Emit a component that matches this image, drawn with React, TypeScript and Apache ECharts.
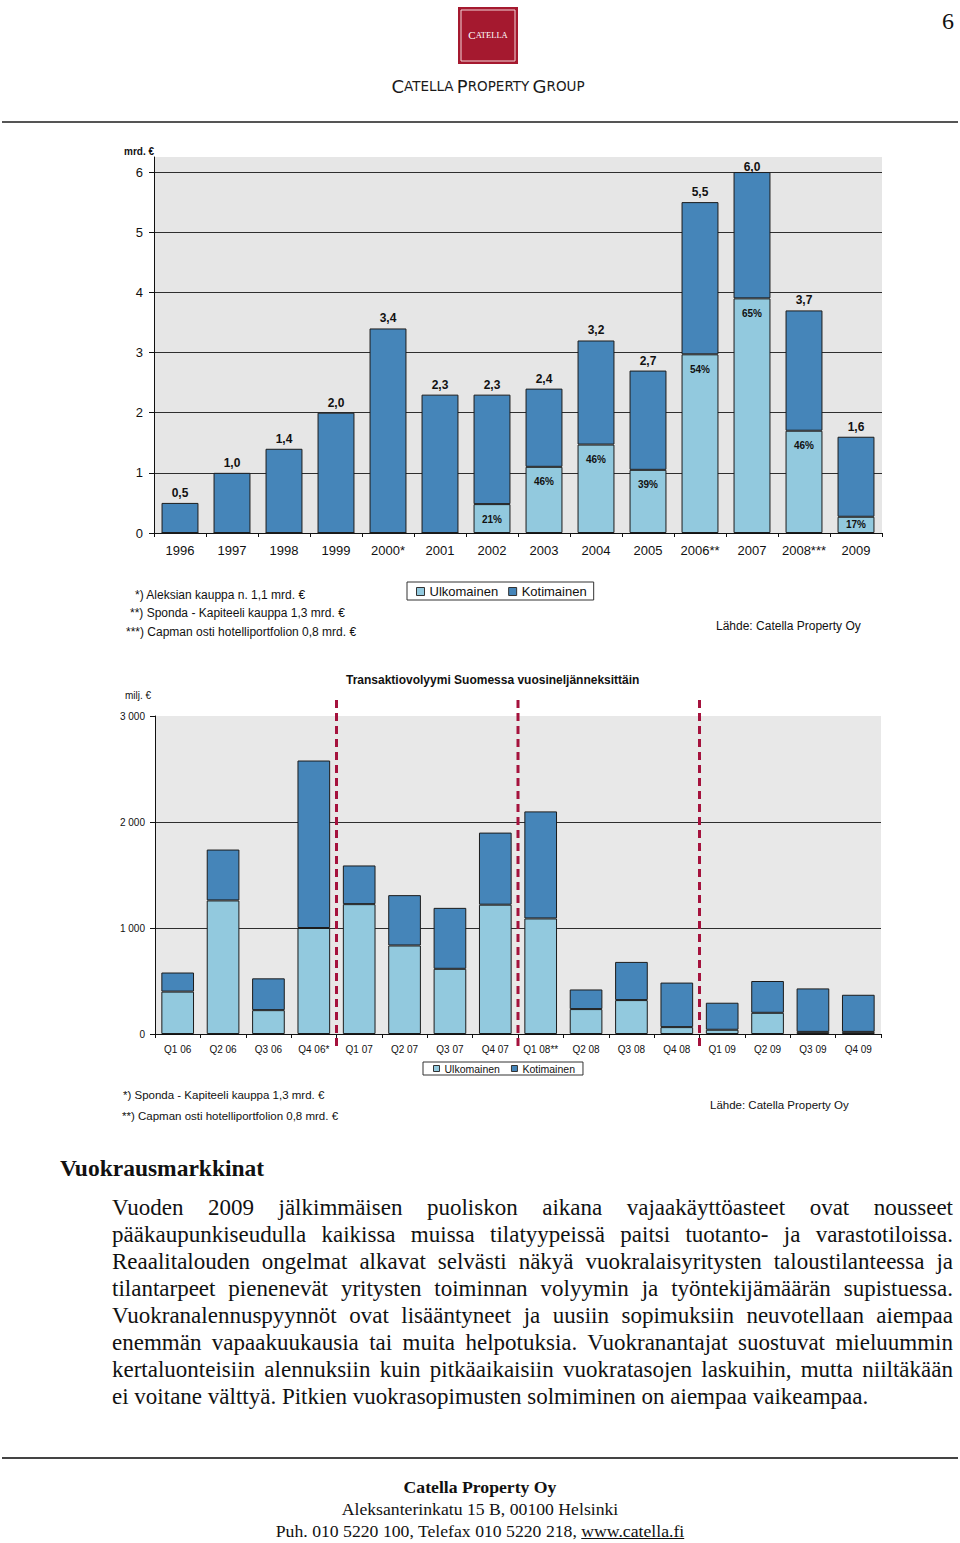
import React, { useEffect, useRef } from "react";
import * as echarts from "echarts";

// ---------- Data: annual transaction volume (mrd. €) ----------
const years = ["1996", "1997", "1998", "1999", "2000*", "2001", "2002", "2003", "2004", "2005", "2006**", "2007", "2008***", "2009"];
const yearTotals = [0.5, 1.0, 1.4, 2.0, 3.4, 2.3, 2.3, 2.4, 3.2, 2.7, 5.5, 6.0, 3.7, 1.6];
const yearForeign = [0, 0, 0, 0, 0, 0, 0.48, 1.1, 1.47, 1.05, 2.97, 3.9, 1.7, 0.27];
const yearDomestic = [0.5, 1.0, 1.4, 2.0, 3.4, 2.3, 1.82, 1.3, 1.73, 1.65, 2.53, 2.1, 2.0, 1.33];
const yearForeignPct = ["", "", "", "", "", "", "21%", "46%", "46%", "39%", "54%", "65%", "46%", "17%"];

// ---------- Data: quarterly transaction volume (milj. €) ----------
const quarters = ["Q1 06", "Q2 06", "Q3 06", "Q4 06*", "Q1 07", "Q2 07", "Q3 07", "Q4 07", "Q1 08**", "Q2 08", "Q3 08", "Q4 08", "Q1 09", "Q2 09", "Q3 09", "Q4 09"];
const quarterForeign = [400, 1260, 225, 1000, 1225, 835, 615, 1220, 1090, 235, 320, 65, 40, 200, 20, 20];
const quarterDomestic = [180, 480, 300, 1580, 365, 475, 575, 680, 1010, 185, 360, 420, 255, 300, 410, 350];
const yearBreaks = [3, 7, 11]; // last quarter index of 2006, 2007, 2008

const seriesNames = ["Ulkomainen", "Kotimainen"];

const footnotes1 = [
  "*) Aleksian kauppa n. 1,1 mrd. €",
  "**) Sponda - Kapiteeli kauppa 1,3 mrd. €",
  "***) Capman osti hotelliportfolion 0,8 mrd. €",
];
const footnotes2 = [
  "*) Sponda - Kapiteeli kauppa 1,3 mrd. €",
  "**) Capman osti hotelliportfolion 0,8 mrd. €",
];
const sourceText = "Lähde: Catella Property Oy";
const chartTitle2 = "Transaktiovolyymi Suomessa vuosineljänneksittäin";

const heading = "Vuokrausmarkkinat";
const paragraphLines = [
  "Vuoden 2009 jälkimmäisen puoliskon aikana vajaakäyttöasteet ovat nousseet",
  "pääkaupunkiseudulla kaikissa muissa tilatyypeissä paitsi tuotanto- ja varastotiloissa.",
  "Reaalitalouden ongelmat alkavat selvästi näkyä vuokralaisyritysten taloustilanteessa ja",
  "tilantarpeet pienenevät yritysten toiminnan volyymin ja työntekijämäärän supistuessa.",
  "Vuokranalennuspyynnöt ovat lisääntyneet ja uusiin sopimuksiin neuvotellaan aiempaa",
  "enemmän vapaakuukausia tai muita helpotuksia. Vuokranantajat suostuvat mieluummin",
  "kertaluonteisiin alennuksiin kuin pitkäaikaisiin vuokratasojen laskuihin, mutta niiltäkään",
  "ei voitane välttyä. Pitkien vuokrasopimusten solmiminen on aiempaa vaikeampaa.",
];

const LIGHT = "#92c9de";
const DARK = "#4585b9";
const BORDER = "#1c1c1c";
const SANS = "Liberation Sans, Arial, sans-serif";
const SERIF = "Liberation Serif, Times New Roman, serif";

const fmt1 = (v: number) => v.toFixed(1).replace(".", ",");
const fmtThousand = (v: number) => (v === 0 ? "0" : `${v / 1000} 000`);

export default function App() {
  const ref = useRef<HTMLDivElement>(null);

  useEffect(() => {
    if (!ref.current) return;
    const chart = echarts.init(ref.current, undefined, { renderer: "svg" });

    const axisLineStyle = { color: "#111", width: 1 };

    const option: any = {
      animation: false,
      backgroundColor: "#ffffff",
      title: {
        text: chartTitle2,
        left: 346,
        top: 674,
        padding: 0,
        textStyle: { fontFamily: SANS, fontSize: 12, fontWeight: "bold", color: "#111" },
      },
      legend: [
        {
          data: seriesNames,
          left: 407,
          top: 582,
          padding: [3, 7, 2, 9],
          itemGap: 10,
          itemWidth: 8,
          itemHeight: 8,
          icon: "rect",
          borderColor: "#333",
          borderWidth: 1,
          selectedMode: false,
          textStyle: { fontFamily: SANS, fontSize: 13, color: "#111" },
          itemStyle: { borderColor: "#333", borderWidth: 1 },
        },
        {
          data: seriesNames,
          left: 423,
          top: 1062,
          padding: [1, 8, 1, 10],
          itemGap: 11,
          itemWidth: 6,
          itemHeight: 6,
          icon: "rect",
          borderColor: "#333",
          borderWidth: 1,
          selectedMode: false,
          textStyle: { fontFamily: SANS, fontSize: 10.5, color: "#111" },
          itemStyle: { borderColor: "#333", borderWidth: 1 },
        },
      ],
      grid: [
        { left: 154, top: 157, width: 728, height: 376, show: true, backgroundColor: "#e6e6e6", borderWidth: 0 },
        { left: 155, top: 716, width: 726, height: 318, show: true, backgroundColor: "#e8e8e8", borderWidth: 0 },
      ],
      xAxis: [
        {
          type: "category",
          gridIndex: 0,
          data: years,
          axisLine: { lineStyle: axisLineStyle },
          axisTick: { show: true, length: 4, lineStyle: axisLineStyle },
          axisLabel: { interval: 0, fontFamily: SANS, fontSize: 13, color: "#111", margin: 11 },
        },
        {
          type: "category",
          gridIndex: 1,
          data: quarters,
          axisLine: { lineStyle: axisLineStyle },
          axisTick: { show: true, length: 4, lineStyle: axisLineStyle },
          axisLabel: { interval: 0, fontFamily: SANS, fontSize: 10, color: "#111", margin: 10 },
        },
      ],
      yAxis: [
        {
          type: "value",
          gridIndex: 0,
          min: 0,
          max: 6.25,
          interval: 1,
          axisLine: { show: true, lineStyle: axisLineStyle },
          axisTick: { show: true, length: 5, lineStyle: axisLineStyle },
          axisLabel: { showMaxLabel: false, fontFamily: SANS, fontSize: 13, color: "#111", margin: 11 },
          splitLine: { show: true, showMaxLine: false, lineStyle: { color: "#2e2e2e", width: 1.2 } },
        },
        {
          type: "value",
          gridIndex: 1,
          min: 0,
          max: 3000,
          interval: 1000,
          axisLine: { show: true, lineStyle: axisLineStyle },
          axisTick: { show: true, length: 5, lineStyle: axisLineStyle },
          axisLabel: { fontFamily: SANS, fontSize: 10, color: "#111", margin: 10, formatter: fmtThousand },
          splitLine: { show: true, showMaxLine: false, lineStyle: { color: "#2e2e2e", width: 1.2 } },
        },
      ],
      series: [
        {
          type: "bar",
          name: seriesNames[0],
          xAxisIndex: 0,
          yAxisIndex: 0,
          stack: "years",
          barWidth: "71%",
          data: yearForeign.map((v) => ({
            value: v,
            label: v > 0 && v < 0.4 ? { position: "inside", distance: 0 } : undefined,
          })),
          itemStyle: { color: LIGHT, borderColor: BORDER, borderWidth: 1 },
          label: {
            show: true,
            position: "insideTop",
            distance: 10,
            fontFamily: SANS,
            fontSize: 10,
            fontWeight: "bold",
            color: "#111",
            formatter: (p: any) => yearForeignPct[p.dataIndex],
          },
        },
        {
          type: "bar",
          name: seriesNames[1],
          xAxisIndex: 0,
          yAxisIndex: 0,
          stack: "years",
          barWidth: "71%",
          data: yearDomestic.map((v, i) => ({
            value: v,
            label: yearTotals[i] >= 6 ? { distance: -1 } : undefined,
          })),
          itemStyle: { color: DARK, borderColor: BORDER, borderWidth: 1 },
          label: {
            show: true,
            position: "top",
            distance: 4,
            fontFamily: SANS,
            fontSize: 12,
            fontWeight: "bold",
            color: "#111",
            formatter: (p: any) => fmt1(yearTotals[p.dataIndex]),
          },
        },
        {
          type: "bar",
          name: seriesNames[0],
          xAxisIndex: 1,
          yAxisIndex: 1,
          stack: "quarters",
          barWidth: "72%",
          data: quarterForeign,
          itemStyle: { color: LIGHT, borderColor: BORDER, borderWidth: 1 },
        },
        {
          type: "bar",
          name: seriesNames[1],
          xAxisIndex: 1,
          yAxisIndex: 1,
          stack: "quarters",
          barWidth: "72%",
          data: quarterDomestic,
          itemStyle: { color: DARK, borderColor: BORDER, borderWidth: 1 },
        },
        {
          type: "custom",
          name: "breaks",
          xAxisIndex: 1,
          yAxisIndex: 1,
          clip: false,
          silent: true,
          z: 10,
          data: yearBreaks.map((i) => [i, 0]),
          renderItem: (params: any, api: any) => {
            const i = api.value(0);
            const base = api.coord([i, 0]);
            const top = api.coord([i, 3000]);
            const band = api.size([1, 0])[0];
            const x = base[0] + band / 2;
            return {
              type: "line",
              shape: { x1: x, y1: top[1] - 16, x2: x, y2: base[1] + 16 },
              style: { stroke: "#a5123d", lineWidth: 3, lineDash: [8, 5] },
            };
          },
        },
      ],
      graphic: [
        // header logo
        { type: "rect", shape: { x: 458, y: 7, width: 60, height: 57 }, style: { fill: "#a5192f" } },
        { type: "rect", shape: { x: 461, y: 10, width: 54, height: 51 }, style: { fill: "none", stroke: "#f2d7da", lineWidth: 1 } },
        {
          type: "text",
          x: 488,
          y: 35,
          style: {
            text: "{c|C}{s|ATELLA}",
            align: "center",
            verticalAlign: "middle",
            fill: "#fff",
            rich: {
              c: { fontFamily: SERIF, fontSize: 11, fill: "#fff" },
              s: { fontFamily: SERIF, fontSize: 8.5, fill: "#fff" },
            },
          },
        },
        {
          type: "text",
          x: 488,
          y: 86,
          style: {
            text: "{c|C}{s|ATELLA} {c|P}{s|ROPERTY} {c|G}{s|ROUP}",
            align: "center",
            verticalAlign: "middle",
            fill: "#1a1a1a",
            rich: {
              c: { fontFamily: "DejaVu Sans", fontSize: 18, fill: "#1a1a1a" },
              s: { fontFamily: "DejaVu Sans", fontSize: 13.5, fill: "#1a1a1a" },
            },
          },
        },
        { type: "text", x: 948, y: 21, style: { text: "6", align: "center", verticalAlign: "middle", fontFamily: SERIF, fontSize: 24, fill: "#111" } },
        { type: "line", shape: { x1: 2, y1: 122, x2: 958, y2: 122 }, style: { stroke: "#555", lineWidth: 2 } },
        // chart 1 unit + notes
        { type: "text", x: 124, y: 151, style: { text: "mrd. €", verticalAlign: "middle", fontFamily: SANS, fontSize: 10, fontWeight: "bold", fill: "#111" } },
        ...footnotes1.map((t, i) => ({
          type: "text",
          x: [135, 130, 126][i],
          y: [595, 613, 632][i],
          style: { text: t, verticalAlign: "middle", fontFamily: SANS, fontSize: 12, fill: "#111" },
        })),
        { type: "text", x: 716, y: 626, style: { text: sourceText, verticalAlign: "middle", fontFamily: SANS, fontSize: 12, fill: "#111" } },
        // chart 2 unit + notes
        { type: "text", x: 125, y: 695, style: { text: "milj. €", verticalAlign: "middle", fontFamily: SANS, fontSize: 10, fill: "#111" } },
        ...footnotes2.map((t, i) => ({
          type: "text",
          x: [123, 122][i],
          y: [1095, 1116][i],
          style: { text: t, verticalAlign: "middle", fontFamily: SANS, fontSize: 11.5, fill: "#111" },
        })),
        { type: "text", x: 710, y: 1105, style: { text: sourceText, verticalAlign: "middle", fontFamily: SANS, fontSize: 11.5, fill: "#111" } },
        // footer rule
        { type: "line", shape: { x1: 2, y1: 1458, x2: 958, y2: 1458 }, style: { stroke: "#444", lineWidth: 2 } },
      ],
    };

    chart.setOption(option);
    return () => chart.dispose();
  }, []);

  return (
    <div style={{ position: "absolute", left: 0, top: 0, width: 960, height: 1543, background: "#fff", overflow: "hidden" }}>
      <div ref={ref} style={{ position: "absolute", left: 0, top: 0, width: 960, height: 1543 }} />
      <div
        style={{
          position: "absolute",
          left: 60,
          top: 1153,
          fontFamily: SERIF,
          fontWeight: "bold",
          fontSize: 23.5,
          lineHeight: "30px",
          color: "#111",
        }}
      >
        {heading}
      </div>
      <div style={{ position: "absolute", left: 112, top: 1194, width: 841, fontFamily: SERIF, fontSize: 23, lineHeight: "27px", color: "#111" }}>
        {paragraphLines.map((line, i) => (
          <div
            key={i}
            style={{
              textAlign: "justify",
              textAlignLast: i === paragraphLines.length - 1 ? "left" : "justify",
              whiteSpace: "nowrap",
            } as any}
          >
            {line}
          </div>
        ))}
      </div>
      <div style={{ position: "absolute", left: 0, top: 1476, width: 960, textAlign: "center", fontFamily: SERIF, fontSize: 17.7, lineHeight: "22px", color: "#111" }}>
        <div style={{ fontWeight: "bold" }}>Catella Property Oy</div>
        <div>Aleksanterinkatu 15 B, 00100 Helsinki</div>
        <div>
          Puh. 010 5220 100, Telefax 010 5220 218, <span style={{ textDecoration: "underline" }}>www.catella.fi</span>
        </div>
      </div>
    </div>
  );
}
